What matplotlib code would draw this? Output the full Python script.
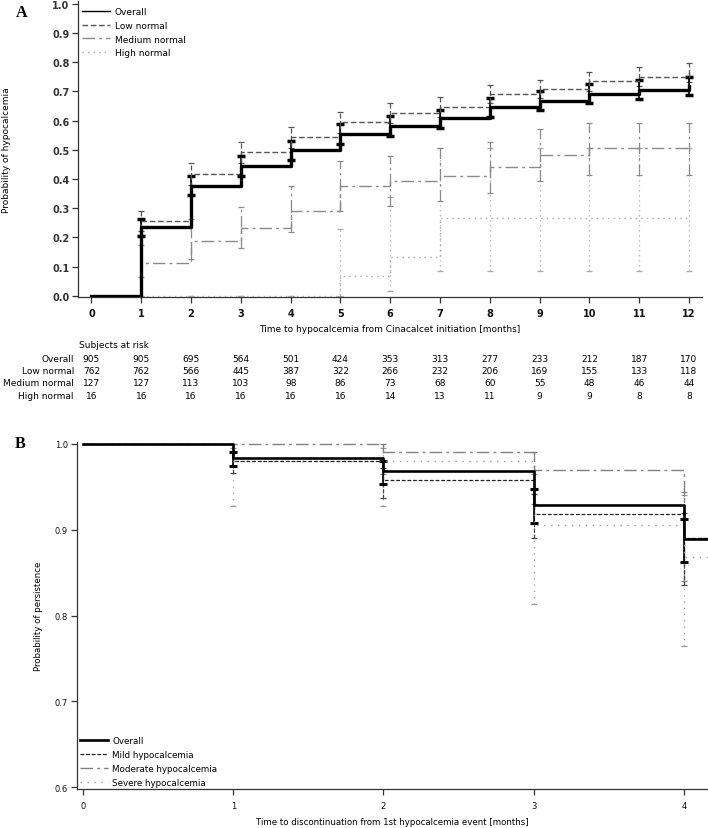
import matplotlib
matplotlib.use('Agg')
import matplotlib.pyplot as plt
import matplotlib.transforms as mtransforms
import numpy as np

# ---------------- Panel A data ----------------
months = list(range(13))
ci_months = list(range(1, 13))

a_overall = [0, 0.234, 0.377, 0.446, 0.501, 0.554, 0.583, 0.608, 0.648, 0.667, 0.691, 0.706, 0.720]
a_overall_hi = [0.263, 0.409, 0.478, 0.531, 0.588, 0.615, 0.638, 0.678, 0.700, 0.725, 0.738, 0.751]
a_overall_lo = [0.206, 0.346, 0.411, 0.466, 0.521, 0.549, 0.574, 0.613, 0.637, 0.661, 0.674, 0.687]

a_low = [0, 0.257, 0.417, 0.491, 0.543, 0.594, 0.626, 0.646, 0.691, 0.708, 0.735, 0.751, 0.765]
a_low_hi = [0.291, 0.454, 0.526, 0.579, 0.631, 0.660, 0.680, 0.723, 0.740, 0.768, 0.783, 0.799]
a_low_lo = [0.223, 0.380, 0.456, 0.507, 0.557, 0.592, 0.612, 0.659, 0.676, 0.702, 0.719, 0.731]

a_medium = [0, 0.112, 0.189, 0.231, 0.291, 0.375, 0.392, 0.411, 0.440, 0.482, 0.505, 0.505, 0.505]
a_medium_hi = [0.174, 0.263, 0.305, 0.375, 0.462, 0.480, 0.505, 0.528, 0.571, 0.593, 0.593, 0.593]
a_medium_lo = [0.063, 0.125, 0.163, 0.217, 0.291, 0.309, 0.326, 0.353, 0.392, 0.414, 0.414, 0.414]

a_high = [0, 0, 0, 0, 0, 0.066, 0.132, 0.265, 0.265, 0.265, 0.265, 0.265, 0.265]
a_high_hi = [0, 0, 0, 0, 0.229, 0.337, 0.506, 0.506, 0.506, 0.506, 0.506, 0.506]
a_high_lo = [0, 0, 0, 0, 0, 0.015, 0.084, 0.084, 0.084, 0.084, 0.084, 0.084]

a_labels = ["Overall", "Low normal", "Medium normal", "High normal"]

risk_overall = [905, 905, 695, 564, 501, 424, 353, 313, 277, 233, 212, 187, 170]
risk_low = [762, 762, 566, 445, 387, 322, 266, 232, 206, 169, 155, 133, 118]
risk_medium = [127, 127, 113, 103, 98, 86, 73, 68, 60, 55, 48, 46, 44]
risk_high = [16, 16, 16, 16, 16, 16, 14, 13, 11, 9, 9, 8, 8]

# ---------------- Panel B data ----------------
b_months = [0, 1, 2, 3, 4]
b_followup_end = 4.3
b_ci_months = [1, 2, 3, 4]
b_overall = [1.0, 0.984, 0.968, 0.929, 0.889]
b_overall_hi = [0.991, 0.980, 0.948, 0.912]
b_overall_lo = [0.974, 0.953, 0.908, 0.862]
b_mild = [1.0, 0.980, 0.958, 0.918, 0.890]
b_mild_hi = [0.989, 0.972, 0.942, 0.920]
b_mild_lo = [0.966, 0.937, 0.890, 0.835]
b_moderate = [1.0, 1.0, 0.991, 0.970, 0.890]
b_moderate_hi = [np.nan, 1.0, 0.991, 0.944]
b_moderate_lo = [np.nan, 0.965, 0.930, 0.840]
b_severe = [1.0, 0.980, 0.980, 0.905, 0.868]
b_severe_hi = [0.995, 0.995, 0.965, 0.940]
b_severe_lo = [0.928, 0.928, 0.813, 0.764]
b_labels = ["Overall", "Mild hypocalcemia", "Moderate hypocalcemia", "Severe hypocalcemia"]

# ---------------- Figure ----------------
W, H = 708, 829
plt.rcParams['font.family'] = ['DejaVu Sans']
plt.rcParams['font.size'] = 6.5
fig = plt.figure(figsize=(W / 100, H / 100), dpi=100)

AX_COL = '#333333'
FS = 6.5


def px_axes(l, t, r, b):
    return fig.add_axes([l / W, 1 - b / H, (r - l) / W, (b - t) / H])


def style_axes(ax):
    for s in ['top', 'right']:
        ax.spines[s].set_visible(False)
    for s in ['left', 'bottom']:
        ax.spines[s].set_color(AX_COL)
        ax.spines[s].set_linewidth(0.9)
    ax.tick_params(colors=AX_COL, width=0.9, length=4, labelcolor='#111111')


def ci(ax, t, lo, hi, color, ls, lw, capsize, capthick):
    lo = np.asarray(lo, float)
    hi = np.asarray(hi, float)
    mid = (lo + hi) / 2
    err = (hi - lo) / 2
    eb = ax.errorbar(t, mid, yerr=err, fmt='none', ecolor=color, elinewidth=lw,
                     capsize=capsize, capthick=capthick, zorder=2)
    for c in eb[2]:
        c.set_linestyle(ls)
    return eb


# ---- Panel A ----
axA = px_axes(78, 2, 702, 298)
style_axes(axA)
axA.set_xlim(-0.27, 12.26)
axA.set_ylim(-0.0045, 1.010)

c_low, c_med, c_high = '#555555', '#8a8a8a', '#aaaaaa'
ls_low = (0, (4, 2))
ls_med = (0, (9, 3, 2, 3))
ls_high = (0, (1, 3))

axA.step(months, a_high, where='post', color=c_high, lw=1.0, ls=ls_high, zorder=3)
axA.step(months, a_medium, where='post', color=c_med, lw=1.0, ls=ls_med, zorder=3)
axA.step(months, a_low, where='post', color=c_low, lw=1.0, ls=ls_low, zorder=3)
ci(axA, ci_months, a_high_lo, a_high_hi, c_high, ls_high, 0.9, 2.5, 0.9)
ci(axA, ci_months, a_medium_lo, a_medium_hi, c_med, ls_med, 0.9, 2.5, 0.9)
ci(axA, ci_months, a_low_lo, a_low_hi, c_low, ls_low, 0.9, 2.5, 0.9)
ci(axA, ci_months, a_overall_lo, a_overall_hi, 'black', '-', 1.2, 3.2, 2.5)
axA.step(months, a_overall, where='post', color='black', lw=2.4, zorder=4)

axA.set_xticks(months)
axA.set_xticklabels([str(m) for m in months], fontweight='bold', fontsize=7)
yt = np.round(np.arange(0, 1.01, 0.1), 1)
axA.set_yticks(yt)
axA.set_yticklabels([f"{v:.1f}" for v in yt], fontweight='bold', fontsize=7, color='#333333')
axA.tick_params(axis='x', pad=4)
axA.tick_params(axis='y', pad=2)
axA.set_ylabel("Probability of hypocalcemia", fontsize=FS)
axA.yaxis.set_label_coords(11 / W, 1 - 150 / H, transform=fig.transFigure)

axA.legend([plt.Line2D([], [], color='black', lw=1.0),
            plt.Line2D([], [], color=c_low, lw=1.0, ls=ls_low),
            plt.Line2D([], [], color=c_med, lw=1.0, ls=ls_med),
            plt.Line2D([], [], color=c_high, lw=1.0, ls=ls_high)],
           a_labels, loc='upper left', bbox_to_anchor=(82 / W, 1 - 8 / H),
           bbox_transform=fig.transFigure, frameon=False, borderpad=0,
           borderaxespad=0, handlelength=3.1, handletextpad=0.55,
           labelspacing=0.53, fontsize=FS)

fig.text(16 / W, 1 - 13 / H, "A", fontsize=11.5, fontweight='bold', family='Liberation Serif',
         ha='left', va='center')
fig.text(390 / W, 1 - 330 / H, "Time to hypocalcemia from Cinacalcet initiation [months]",
         ha='center', va='center', fontsize=FS)

# risk table
trans = mtransforms.blended_transform_factory(axA.transData, fig.transFigure)
fig.text(79 / W, 1 - 346 / H, "Subjects at risk", ha='left', va='center', fontsize=FS)
risk_rows = [risk_overall, risk_low, risk_medium, risk_high]
row_y = [359, 371.5, 384, 396.5]
for lab, row, yy in zip(a_labels, risk_rows, row_y):
    fig.text(74 / W, 1 - yy / H, lab, ha='right', va='center', fontsize=FS)
    for m, n in zip(months, row):
        axA.text(m, 1 - yy / H, str(n), transform=trans, ha='center', va='center', fontsize=FS,
                 clip_on=False)

# ---- Panel B ----
axB = px_axes(77, 443, 708, 790)
style_axes(axB)
axB.set_xlim(-0.04, 4.16)
axB.set_ylim(0.5977, 1.0023)

bx = b_months + [b_followup_end]
c_mod, c_sev = '#808080', '#9a9a9a'
ls_mild = (0, (3, 1.5))
ls_mod = (0, (9, 3, 2, 3))
ls_sev = (0, (1, 4))

axB.step(bx, b_severe + [b_severe[-1]], where='post', color=c_sev, lw=1.0, ls=ls_sev, zorder=3)
axB.step(bx, b_moderate + [b_moderate[-1]], where='post', color=c_mod, lw=1.0, ls=ls_mod, zorder=3)
axB.step(bx, b_mild + [b_mild[-1]], where='post', color='#222222', lw=0.9, ls=ls_mild, zorder=3)
ci(axB, b_ci_months, b_severe_lo, b_severe_hi, c_sev, ls_sev, 0.9, 2.5, 0.9)
ci(axB, b_ci_months, b_moderate_lo, b_moderate_hi, c_mod, ls_mod, 0.9, 2.5, 0.9)
ci(axB, b_ci_months, b_mild_lo, b_mild_hi, '#444444', ls_mild, 0.9, 2.5, 0.9)
ci(axB, b_ci_months, b_overall_lo, b_overall_hi, 'black', '-', 1.2, 3.0, 2.2)
axB.step(bx, b_overall + [b_overall[-1]], where='post', color='black', lw=1.9, zorder=4)

axB.set_xticks(b_months)
axB.set_xticklabels([str(m) for m in b_months], fontsize=6)
bt = [0.6, 0.7, 0.8, 0.9, 1.0]
axB.set_yticks(bt)
axB.set_yticklabels([f"{v:.1f}" for v in bt], fontsize=6)
axB.tick_params(axis='x', pad=4.5)
axB.tick_params(axis='y', pad=2.5)
axB.set_ylabel("Probability of persistence", fontsize=6.2)
axB.yaxis.set_label_coords(43 / W, 1 - 616.5 / H, transform=fig.transFigure)
axB.set_xlabel("Time to discontinuation from 1st hypocalcemia event [months]", fontsize=6.2)
axB.xaxis.set_label_coords(392 / W, 1 - 818 / H, transform=fig.transFigure)

axB.legend([plt.Line2D([], [], color='black', lw=1.9),
            plt.Line2D([], [], color='#222222', lw=0.9, ls=ls_mild),
            plt.Line2D([], [], color=c_mod, lw=1.0, ls=ls_mod),
            plt.Line2D([], [], color=c_sev, lw=1.0, ls=ls_sev)],
           b_labels, loc='lower left', bbox_to_anchor=(80 / W, 1 - 788 / H),
           bbox_transform=fig.transFigure, frameon=False, borderpad=0,
           borderaxespad=0, handlelength=3.2, handletextpad=0.5,
           labelspacing=0.57, fontsize=6.3)

fig.text(15 / W, 1 - 444 / H, "B", fontsize=11.5, fontweight='bold', family='Liberation Serif',
         ha='left', va='center')

fig.savefig('out.png', dpi=100)
